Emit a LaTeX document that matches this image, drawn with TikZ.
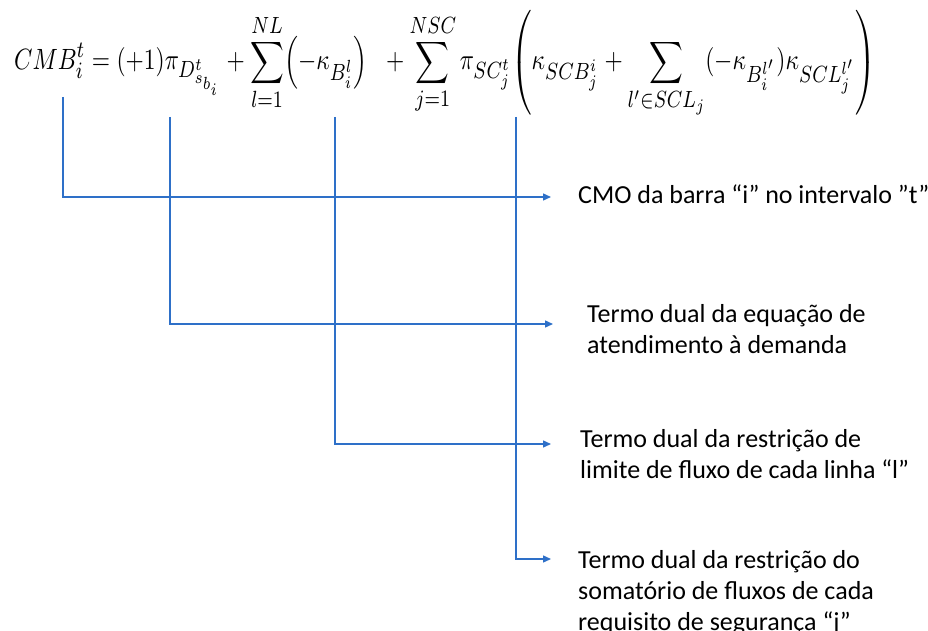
\documentclass[tikz,border=0pt]{standalone}
\usepackage{amsmath}
\usepackage{fontspec}
\setmainfont{Carlito}
\DeclareMathSizes{10}{10}{8}{6.5}
\usetikzlibrary{arrows.meta}
\definecolor{leader}{RGB}{46,112,200}
\tikzset{
  leaderline/.style={draw=leader, line width=1.4pt, -{Triangle[length=8pt,width=7pt]}},
  label/.style={anchor=base west, inner sep=0pt, font=\fontsize{26}{31}\selectfont}
}
\newcommand{\lbl}[1]{\begin{tabular}[t]{@{}l@{}}#1\end{tabular}}
% fixed-size outer parentheses
\makeatletter
\newcommand{\bigopen}{\mathopen{\bBigg@{2.9}(}}
\newcommand{\bigclose}{\mathclose{\bBigg@{2.9})}}
\makeatother
\begin{document}
\begin{tikzpicture}[x=1pt,y=-1pt]
\useasboundingbox (0,0) rectangle (928,631);
% the equation
\node[anchor=base west, inner sep=0pt] (eq) at (14,70) {\resizebox{862pt}{!}{\scalebox{1}[1.25]{\fontsize{10}{12}\selectfont$\displaystyle
  CMB_i^t = (+1)\pi_{D_{s_{b_i}}^{t}} + \sum_{l=1}^{NL}\Bigl(-\kappa_{B_i^{l}}\Bigr)\;\; + \sum_{j=1}^{NSC}\pi_{SC_j^{t}}\bigopen\kappa_{SCB_j^{i}} + \sum_{l'\in SCL_j}(-\kappa_{B_i^{l'}})\kappa_{SCL_j^{l'}}\bigclose$}}};
% start points under each term
\coordinate (s1) at (63,97);
\coordinate (s2) at (170,117);
\coordinate (s3) at (335,117);
\coordinate (s4) at (516,117);
% arrow ends
\coordinate (e1) at (551,197);
\coordinate (e2) at (553,324);
\coordinate (e3) at (551,444);
\coordinate (e4) at (551,559);
% explanations
\node[label] (t1) at (578,203) {CMO da barra “i” no intervalo ”t”};
\node[label] (t2) at (587,322) {\lbl{Termo dual da equação de\\atendimento à demanda}};
\node[label] (t3) at (580,447) {\lbl{Termo dual da restrição de\\limite de fluxo de cada linha “l”}};
\node[label] (t4) at (578,568) {\lbl{Termo dual da restrição do\\somatório de fluxos de cada\\requisito de segurança “j”}};
% leaders
\draw[leaderline] (s1) |- (e1);
\draw[leaderline] (s2) |- (e2);
\draw[leaderline] (s3) |- (e3);
\draw[leaderline] (s4) |- (e4);
\end{tikzpicture}
\end{document}
